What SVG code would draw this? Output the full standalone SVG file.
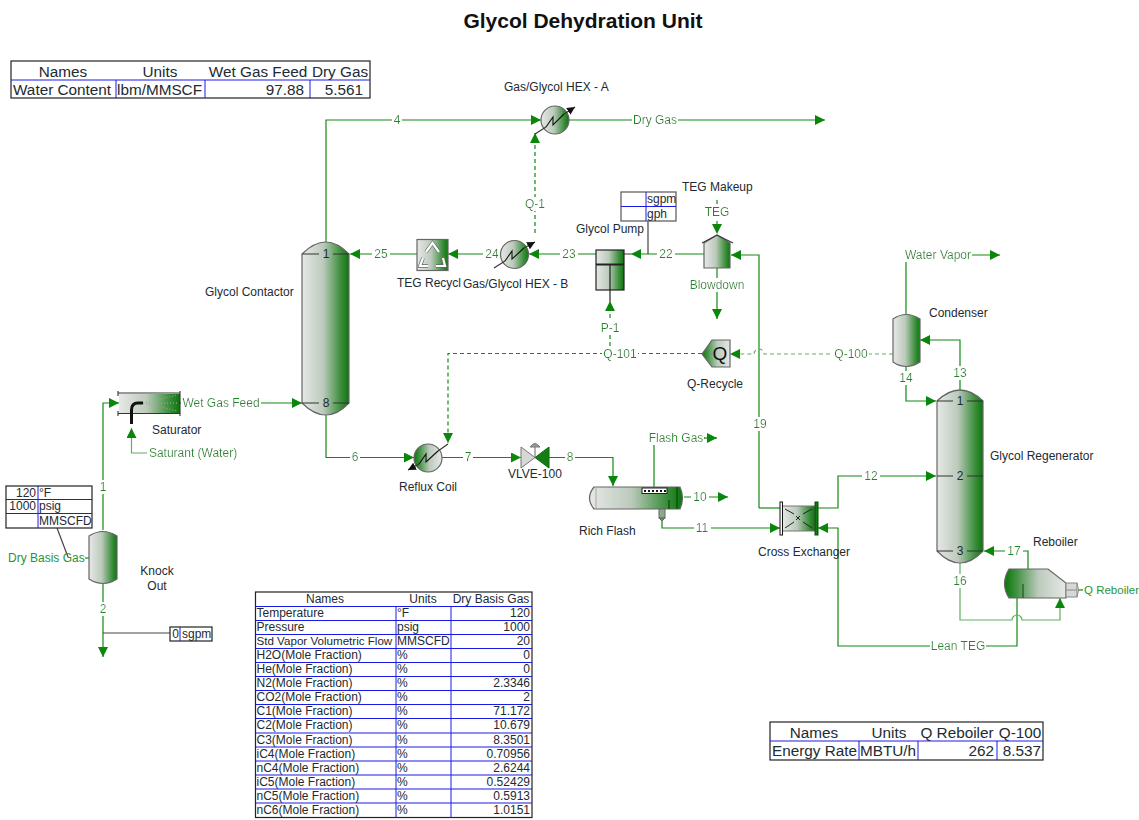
<svg xmlns="http://www.w3.org/2000/svg" width="1139" height="820" viewBox="0 0 1139 820">
<style>
text{font-family:"Liberation Sans",Arial,sans-serif;font-size:12px;fill:#222a33}
.l{fill:#1c8a24;text-anchor:middle;filter:url(#bg)}
.n{fill:#1c8a24;text-anchor:middle;filter:url(#bgn)}
.ls{fill:#2a9432}
.m{text-anchor:middle}
.e{text-anchor:end}
.s{fill:none;stroke:#128a12;stroke-width:1.2}
.sl{fill:none;stroke:#5fb060;stroke-width:1.2}
.a{marker-end:url(#ah)}
.d{stroke-dasharray:4 3}
.dl{stroke-dasharray:4 3;stroke:#6aa96a}
.v{fill:url(#g);stroke:#666;stroke-width:1.2}
.vr{fill:url(#gr);stroke:#666;stroke-width:1.2}
.tr{stroke:#333;stroke-width:1.100;fill:none}
.blk{stroke:#111;stroke-width:1.100;fill:none}
.o{fill:#fff;stroke:#222;stroke-width:1.2}
.in{stroke:#1a1ae6;stroke-width:1;fill:none}
.lead{stroke:#444;stroke-width:1.2;fill:none}
.th{font-size:15.300px}
</style>
<defs>
<linearGradient id="g" x1="0" y1="0" x2="1" y2="0"><stop offset="0" stop-color="#e6e8e6"/><stop offset=".45" stop-color="#bccabc"/><stop offset=".82" stop-color="#3d8f3d"/><stop offset="1" stop-color="#0c750c"/></linearGradient>
<linearGradient id="gr" x1="1" y1="0" x2="0" y2="0"><stop offset="0" stop-color="#e6e8e6"/><stop offset=".45" stop-color="#bccabc"/><stop offset=".82" stop-color="#3d8f3d"/><stop offset="1" stop-color="#0c750c"/></linearGradient>
<marker id="ah" markerUnits="userSpaceOnUse" markerWidth="11" markerHeight="11" refX="10" refY="5" orient="auto"><path d="M0,0L10,5L0,10Z" fill="#0a860a"/></marker>
<marker id="bk" markerUnits="userSpaceOnUse" markerWidth="9" markerHeight="9" refX="8" refY="4" orient="auto"><path d="M0,0L8,4L0,8Z" fill="#111"/></marker>
<filter id="bg" x="-.01" y="0" width="1.02" height="1"><feFlood flood-color="#fff"/><feComposite in="SourceGraphic"/></filter>
<filter id="bgn" x="-.12" y="0" width="1.24" height="1"><feFlood flood-color="#fff"/><feComposite in="SourceGraphic"/></filter>
</defs>
<rect width="1139" height="820" fill="#fff"/>
<text x="583" y="28" class="m" style="font-size:21px;font-weight:bold;fill:#111">Glycol Dehydration Unit</text>

<g id="connectors">
<path class="s a" d="M103,530V403H119"/>
<path class="s a" d="M103,584V657"/>
<path class="sl a" d="M148,453H131.500V428"/>
<path class="s a" d="M180,403H302"/>
<path class="s a" d="M326,242V120H541"/>
<path class="s a" d="M569,120H825"/>
<path class="s a d" d="M535,233V133"/>
<path class="s a" d="M417,254H350"/>
<path class="s a" d="M501,254H448"/>
<path class="s a" d="M596,254H529"/>
<path class="s a" d="M704,254H631"/>
<path stroke="#555" stroke-width="1.2" d="M624,254H631"/>
<path class="s a" d="M759,508V255H731"/>
<path class="s a d" d="M717,200V234"/>
<path class="s a" d="M717,268V319"/>
<path class="s a d" d="M610,353V301"/>
<path class="s a d" d="M702,353.500H448V443"/>
<path class="sl a dl" d="M893,354H764A5,5 0 0 0 754,354H730"/>
<path class="s a" d="M326,415V457.500H414"/>
<path class="s a" d="M442,457.500H521"/>
<path class="s a" d="M549,457.500H613V486"/>
<path class="s" d="M654,488V438H705"/>
<path class="s a" d="M703,438H717"/>
<path class="s a" d="M684,497H728"/>
<path class="s a" d="M662,520V528H780"/>
<path class="s" d="M780,508H759"/>
<path class="s a" d="M818,508H838V476H936"/>
<path class="s a" d="M1017,598V646H838V528H818"/>
<path class="s a" d="M960,390V340H920"/>
<path class="s a" d="M906,367V401H936"/>
<path class="s a" d="M906,314V255H1000"/>
<path class="s a" d="M1028,569V551H984"/>
<path class="sl a" d="M960,563V620H1012A5,5 0 0 1 1022,620H1060V598"/>
<path class="s" d="M1078,590H1083"/>
<path class="s" d="M85,558H89"/>
<path class="lead" d="M103,633H170M57,528L68,557M648,254V221"/>
</g>

<g id="stream-labels">
<text class="n" x="103" y="491">1</text>
<text class="n" x="103" y="613">2</text>
<text class="n" x="397" y="124">4</text>
<text class="l" x="655" y="124">Dry Gas</text>
<text class="l" x="535" y="208">Q-1</text>
<text class="n" x="381" y="258">25</text>
<text class="n" x="492" y="258">24</text>
<text class="n" x="569" y="258">23</text>
<text class="n" x="666" y="258">22</text>
<text class="l" x="717" y="216">TEG</text>
<text class="l" x="717" y="289">Blowdown</text>
<text class="l" x="610" y="332">P-1</text>
<text class="l" x="620" y="358">Q-101</text>
<text class="l" x="851" y="358">Q-100</text>
<text class="n" x="355" y="461">6</text>
<text class="n" x="468" y="461">7</text>
<text class="n" x="570" y="461">8</text>
<text class="l" x="676" y="442">Flash Gas</text>
<text class="n" x="700" y="501">10</text>
<text class="n" x="702" y="532">11</text>
<text class="n" x="871" y="480">12</text>
<text class="n" x="760" y="428">19</text>
<text class="n" x="960" y="377">13</text>
<text class="n" x="906" y="382">14</text>
<text class="l" x="938" y="259">Water Vapor</text>
<text class="n" x="1014" y="555">17</text>
<text class="n" x="960" y="585">16</text>
<text class="l" x="958" y="650">Lean TEG</text>
<text class="l" x="221" y="407">Wet Gas Feed</text>
<text class="l" x="193" y="457">Saturant (Water)</text>
<text class="ls" x="8" y="562">Dry Basis Gas</text>
<text class="ls" x="1084" y="594" style="font-size:11.500px">Q Reboiler</text>
</g>

<g id="knock-out">
<path class="v" d="M89,536Q103,527 117,536V579Q103,588 89,579Z"/>
<text class="m" x="157" y="575">Knock</text><text class="m" x="157" y="590">Out</text>
</g>

<g id="saturator">
<rect x="119" y="394" width="61" height="19" fill="url(#g)"/>
<path class="tr" d="M118,393H180M118,413.500H180M118,391V396M118,411V416M180,391V416"/>
<path d="M131.500,424V410Q131.500,403 138,403H143" fill="none" stroke="#111" stroke-width="3"/>
<path d="M143,403L178,395M143,403L178,411M143,403H178" fill="none" stroke="#9db09d" stroke-width="1" stroke-dasharray="1 2"/>
<text x="152" y="434">Saturator</text>
</g>

<g id="glycol-contactor">
<path class="v" d="M302,254Q326,230 349,254V403Q326,427 302,403Z"/>
<path class="tr" d="M302,254H319M333,254H349M302,403H319M333,403H349"/>
<text class="m" x="326" y="258">1</text><text class="m" x="326" y="407">8</text>
<text x="205" y="296">Glycol Contactor</text>
</g>

<g id="hex-a">
<circle class="v" cx="555" cy="120" r="14"/>
<path class="blk" d="M546,127L553,117V125L564,114"/>
<path d="M535,134L546,127M564,114L575,107" fill="none" stroke="#333" stroke-width="1.100" marker-end="url(#bk)"/>
<text x="504" y="91">Gas/Glycol HEX - A</text>
</g>

<g id="hex-b">
<circle class="v" cx="514.500" cy="254.500" r="14"/>
<path class="blk" d="M505,261L512,251V259L524,248"/>
<path d="M494,268L505,261M524,248L535,242" fill="none" stroke="#333" stroke-width="1.100" marker-end="url(#bk)"/>
<text x="463" y="288">Gas/Glycol HEX - B</text>
</g>

<g id="teg-recycle">
<rect class="v" x="417" y="239.500" width="31" height="31"/>
<path d="M426,252L432.500,243L439,252M443,258L445,266H436M428,266H420L423,258" fill="none" stroke="#666" stroke-width="3.600"/>
<path d="M426,252L432.500,243L439,252M443,258L445,266H436M428,266H420L423,258" fill="none" stroke="#fff" stroke-width="2.200"/>
<text x="397" y="287">TEG Recycl</text>
</g>

<g id="glycol-pump">
<rect class="v" x="596" y="250" width="28" height="40" style="stroke:#222"/>
<path d="M596,264.500H624" stroke="#222" stroke-width="2"/>
<path class="blk" d="M610,265V301"/>
<text x="576" y="233">Glycol Pump</text>
</g>

<g id="pump-spec">
<rect class="o" x="621" y="192" width="55" height="29" style="stroke:#555"/>
<path class="in" d="M621,206.500H676M646,192V221"/>
<text x="647" y="203">sgpm</text><text x="647" y="218">gph</text>
</g>

<g id="teg-makeup">
<path class="v" d="M704,243L717,235L730,243V268H704Z"/>
<path class="tr" d="M702,243L717,235L733,243"/>
<text x="682" y="191">TEG Makeup</text>
</g>

<g id="q-recycle">
<path class="vr" d="M702,354L712,340H730V367H712Z"/>
<text class="m" x="720" y="360" style="font-size:19px;fill:#111">Q</text>
<text x="687" y="388">Q-Recycle</text>
</g>

<g id="reflux-coil">
<circle class="vr" cx="428" cy="458" r="14"/>
<path class="blk" d="M419,464L426,454V462L438,451"/>
<path d="M448,444L438,451M419,464L408,470" fill="none" stroke="#333" stroke-width="1.100" marker-end="url(#bk)"/>
<text x="399" y="491">Reflux Coil</text>
</g>

<g id="vlve-100">
<path d="M521,447L535,457.500L521,468Z" fill="#d5d8d5" stroke="#777"/>
<path d="M549,447L535,457.500L549,468Z" fill="#157d15" stroke="#0a6a0a"/>
<path d="M535,457V447" stroke="#666" fill="none"/>
<path d="M530,447Q535,440 540,447Z" fill="#8fa08f" stroke="#777"/>
<text x="508" y="478">VLVE-100</text>
</g>

<g id="rich-flash">
<path class="v" d="M594,487H680Q685,498 680,509H594Q585,498 594,487Z"/>
<rect x="659" y="509" width="6" height="9" fill="#8aa88a" stroke="#666"/>
<path d="M659,518H665L662,521Z" fill="#6c8f6c" stroke="#666"/>
<rect x="642" y="488" width="25" height="5.500" fill="#fff" stroke="#222"/>
<path d="M644,491H666" stroke="#111" stroke-width="2" stroke-dasharray="2 2"/>
<path d="M596,487V509" stroke="#aaa" fill="none"/>
<path d="M669,500V509M677,487V509" stroke="#0a4f0a" stroke-width="1.300" fill="none"/>
<text x="579" y="535">Rich Flash</text>
</g>

<g id="cross-exchanger">
<rect x="782" y="506" width="33" height="25" fill="url(#g)" stroke="#777"/>
<path d="M785,509L794,514M785,528L794,522M812,509L803,514M812,528L803,522M796,516L800,520M800,516L796,520" stroke="#222" fill="none"/>
<rect x="780" y="502" width="2.500" height="33" fill="#fff" stroke="#111"/>
<rect x="815" y="502" width="3" height="33" fill="#0f7a0f" stroke="#0a4a0a"/>
<text x="758" y="556">Cross Exchanger</text>
</g>

<g id="condenser">
<path class="v" d="M893,319Q906,310 920,319V362Q906,371 893,362Z"/>
<text x="929" y="317">Condenser</text>
</g>

<g id="glycol-regenerator">
<path class="v" d="M937,401Q960,379 983,401V551Q960,575 937,551Z"/>
<path class="tr" d="M937,401H953M967,401H983M937,476H953M967,476H983M937,551H953M967,551H983"/>
<text class="m" x="960" y="405">1</text><text class="m" x="960" y="480">2</text><text class="m" x="960" y="555">3</text>
<text x="990" y="460">Glycol Regenerator</text>
</g>

<g id="reboiler">
<path class="vr" d="M1009,569H1048L1066,583V598H1009Q1000,584 1009,569Z"/>
<path d="M1023,584V598" stroke="#225522" stroke-width="1.200" fill="none"/>
<rect x="1066" y="583" width="11" height="14" fill="#d5d8d5" stroke="#888"/>
<path d="M1066,590H1077M1077,583Q1080,590 1077,597" stroke="#888" fill="none"/>
<text x="1033" y="546">Reboiler</text>
</g>

<g id="table-water">
<rect class="o" x="11" y="61" width="359" height="37"/>
<path class="in" d="M11,80H370M116,80V98M205,80V98M310,80V98"/>
<text class="th m" x="63" y="77">Names</text><text class="th m" x="160" y="77">Units</text><text class="th m" x="258" y="77">Wet Gas Feed</text><text class="th m" x="340" y="77">Dry Gas</text>
<text class="th" x="13" y="95">Water Content</text><text class="th" x="117" y="95">lbm/MMSCF</text><text class="th e" x="304" y="95">97.88</text><text class="th e" x="363" y="95">5.561</text>
</g>

<g id="table-feed-spec">
<rect class="o" x="6" y="486" width="86" height="42"/>
<path class="in" d="M6,499.500H92M6,513.500H92M38,486V528"/>
<text class="e" x="36" y="497">120</text><text x="39" y="497">°F</text>
<text class="e" x="36" y="510">1000</text><text x="39" y="510">psig</text>
<text x="39" y="525">MMSCFD</text>
</g>

<g id="table-knock-out">
<rect class="o" x="170" y="627" width="42" height="14"/>
<path class="in" d="M180,627V641"/>
<text class="e" x="179" y="638">0</text><text x="182" y="638">sgpm</text>
</g>

<g id="table-composition">
<rect class="o" x="255.500" y="592" width="276.500" height="225.500"/>
<path class="in" d="M255.500,606.500H532M255.500,620.500H532M255.500,634.500H532M255.500,648.500H532M255.500,662.500H532M255.500,676.500H532M255.500,690.500H532M255.500,704.500H532M255.500,718.500H532M255.500,733H532M255.500,747H532M255.500,761H532M255.500,775H532M255.500,789H532M255.500,803H532M396,606.500V817.500M451,606.500V817.500"/>
<text class="m" x="325" y="603">Names</text><text class="m" x="423" y="603">Units</text><text class="m" x="491" y="603">Dry Basis Gas</text>
<text x="256.500" y="617">Temperature</text><text x="397" y="617">°F</text><text class="e" x="530" y="617">120</text>
<text x="256.500" y="631">Pressure</text><text x="397" y="631">psig</text><text class="e" x="530" y="631">1000</text>
<text x="256.500" y="645" style="font-size:11.600px">Std Vapor Volumetric Flow</text><text x="397" y="645">MMSCFD</text><text class="e" x="530" y="645">20</text>
<text x="256.500" y="659">H2O(Mole Fraction)</text><text x="397" y="659">%</text><text class="e" x="530" y="659">0</text>
<text x="256.500" y="673">He(Mole Fraction)</text><text x="397" y="673">%</text><text class="e" x="530" y="673">0</text>
<text x="256.500" y="687">N2(Mole Fraction)</text><text x="397" y="687">%</text><text class="e" x="530" y="687">2.3346</text>
<text x="256.500" y="701">CO2(Mole Fraction)</text><text x="397" y="701">%</text><text class="e" x="530" y="701">2</text>
<text x="256.500" y="715">C1(Mole Fraction)</text><text x="397" y="715">%</text><text class="e" x="530" y="715">71.172</text>
<text x="256.500" y="729">C2(Mole Fraction)</text><text x="397" y="729">%</text><text class="e" x="530" y="729">10.679</text>
<text x="256.500" y="744">C3(Mole Fraction)</text><text x="397" y="744">%</text><text class="e" x="530" y="744">8.3501</text>
<text x="256.500" y="758">iC4(Mole Fraction)</text><text x="397" y="758">%</text><text class="e" x="530" y="758">0.70956</text>
<text x="256.500" y="772">nC4(Mole Fraction)</text><text x="397" y="772">%</text><text class="e" x="530" y="772">2.6244</text>
<text x="256.500" y="786">iC5(Mole Fraction)</text><text x="397" y="786">%</text><text class="e" x="530" y="786">0.52429</text>
<text x="256.500" y="800">nC5(Mole Fraction)</text><text x="397" y="800">%</text><text class="e" x="530" y="800">0.5913</text>
<text x="256.500" y="814">nC6(Mole Fraction)</text><text x="397" y="814">%</text><text class="e" x="530" y="814">1.0151</text>
</g>

<g id="table-energy">
<rect class="o" x="770" y="722" width="273" height="38"/>
<path class="in" d="M770,741H1043M859,741V760M918,741V760M997,741V760"/>
<text class="th m" x="814" y="738">Names</text><text class="th m" x="889" y="738">Units</text><text class="th m" x="957" y="738">Q Reboiler</text><text class="th m" x="1020" y="738">Q-100</text>
<text class="th" x="772" y="756">Energy Rate</text><text class="th" x="860" y="756">MBTU/h</text><text class="th e" x="994" y="756">262</text><text class="th e" x="1041" y="756">8.537</text>
</g>
</svg>
